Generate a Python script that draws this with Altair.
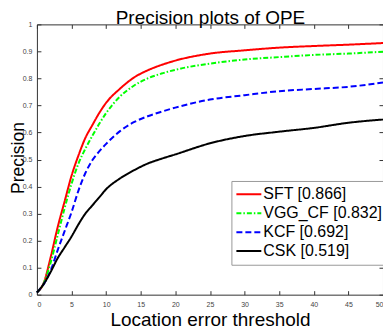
import altair as alt
import pandas as pd

# thresholds (px) and precision values
thr = [0, 1, 2, 3, 4, 5, 6, 7, 8, 9, 10, 12, 14, 16, 18, 20, 25, 30, 35, 40, 45, 50]
sft = [0.008, 0.045, 0.14, 0.25, 0.345, 0.44, 0.515, 0.58, 0.627, 0.672, 0.71, 0.762,
       0.803, 0.830, 0.850, 0.866, 0.892, 0.904, 0.914, 0.920, 0.925, 0.931]
vgg = [0.008, 0.043, 0.12, 0.22, 0.32, 0.41, 0.485, 0.54, 0.587, 0.632, 0.672, 0.733,
       0.773, 0.800, 0.818, 0.832, 0.855, 0.870, 0.879, 0.887, 0.892, 0.899]
kcf = [0.008, 0.04, 0.09, 0.165, 0.235, 0.305, 0.385, 0.45, 0.497, 0.53, 0.558, 0.605,
       0.638, 0.660, 0.677, 0.692, 0.722, 0.738, 0.753, 0.761, 0.769, 0.785]
csk = [0.008, 0.04, 0.085, 0.135, 0.175, 0.215, 0.26, 0.30, 0.33, 0.36, 0.39, 0.43,
       0.46, 0.485, 0.503, 0.519, 0.56, 0.587, 0.603, 0.617, 0.636, 0.648]

names = ["SFT [0.866]", "VGG_CF [0.832]", "KCF [0.692]", "CSK [0.519]"]
colors = ["#ff0000", "#00ff00", "#0000ff", "#000000"]
dashes = [[1, 0], [5, 2, 1.5, 2], [6, 3], [1, 0]]

xticks = [0, 5, 10, 15, 20, 25, 30, 35, 40, 45, 50]
yticks = [0, 0.1, 0.2, 0.3, 0.4, 0.5, 0.6, 0.7, 0.8, 0.9, 1]

chart_title = "Precision plots of OPE"
x_title = "Location error threshold"
y_title = "Precision"

rows = []
for name, vals in zip(names, [sft, vgg, kcf, csk]):
    for t, v in zip(thr, vals):
        rows.append({"series": name, "thr": t, "val": v})
df = pd.DataFrame(rows)

W, H = 347, 271
FONT = "Liberation Sans"

xs = alt.Scale(domain=[0, 50], nice=False, zero=False)
ys = alt.Scale(domain=[0, 1], nice=False)

base = alt.Chart(df)

main = base.mark_line(strokeWidth=2, interpolate="monotone").encode(
    x=alt.X("thr:Q", scale=xs, axis=alt.Axis(
        orient="bottom", values=xticks, tickSize=0, domain=False, grid=False,
        labelPadding=6, labelFontSize=7, title=x_title,
        titleFontSize=19, titleFontWeight="normal", titleBaseline="alphabetic",
        titleY=31, titleX=W / 2, titleColor="#000")),
    y=alt.Y("val:Q", scale=ys, axis=alt.Axis(
        orient="left", values=yticks, tickSize=0, domain=False, grid=False,
        labelPadding=5, labelFontSize=7, format="~g", title=y_title,
        titleFontSize=17.5, titleFontWeight="normal", titleBaseline="alphabetic",
        titleAngle=270, titleAlign="center", titleX=-13, titleY=H / 2 - 2,
        titleColor="#000")),
    color=alt.Color("series:N", scale=alt.Scale(domain=names, range=colors),
                    legend=alt.Legend(title=None)),
    strokeDash=alt.StrokeDash("series:N", scale=alt.Scale(domain=names, range=dashes),
                              legend=alt.Legend(title=None)),
)

# inward ticks on the bottom edge and the left edge; this axis also carries the chart title
ticks_a = base.mark_line(opacity=0).encode(
    x=alt.X("thr:Q", scale=xs, axis=alt.Axis(
        orient="top", offset=-H, values=xticks, labels=False, domain=False,
        grid=False, tickSize=4, title=chart_title, titleFontSize=19,
        titleFontWeight="normal", titleBaseline="alphabetic", titleAlign="center",
        titleX=W / 2, titleY=-(H + 1), titleColor="#000")),
    y=alt.Y("val:Q", scale=ys, axis=alt.Axis(
        orient="right", offset=-W, values=yticks, labels=False, domain=False,
        grid=False, tickSize=4, title=None)),
)

# inward ticks on the top edge and the right edge
ticks_b = base.mark_line(opacity=0).encode(
    x=alt.X("thr:Q", scale=xs, axis=alt.Axis(
        orient="bottom", offset=-H, values=xticks, labels=False, domain=False,
        grid=False, tickSize=4, title=None)),
    y=alt.Y("val:Q", scale=ys, axis=alt.Axis(
        orient="left", offset=-W, values=yticks, labels=False, domain=False,
        grid=False, tickSize=4, title=None)),
)

chart = alt.layer(main, ticks_a, ticks_b).resolve_axis(
    x="independent", y="independent"
).properties(
    width=W, height=H,
    padding={"left": 29, "top": 16, "right": 0, "bottom": 34},
    autosize=alt.AutoSizeParams(type="none"),
).configure_view(
    stroke="#333", strokeWidth=1
).configure_axis(
    labelFont=FONT, titleFont=FONT, tickColor="#333", labelColor="#444",
    tickWidth=1
).configure_legend(
    orient="none", legendX=195, legendY=157, strokeColor="#999",
    fillColor="#ffffff", padding=4, symbolType="stroke", symbolSize=625,
    symbolStrokeWidth=2, labelFont=FONT, labelFontSize=16, labelColor="#000",
    labelOffset=1, rowPadding=0, clipHeight=18.6, labelLimit=300
)

chart.save("out.html", embed_options={"renderer": "svg", "actions": False})
